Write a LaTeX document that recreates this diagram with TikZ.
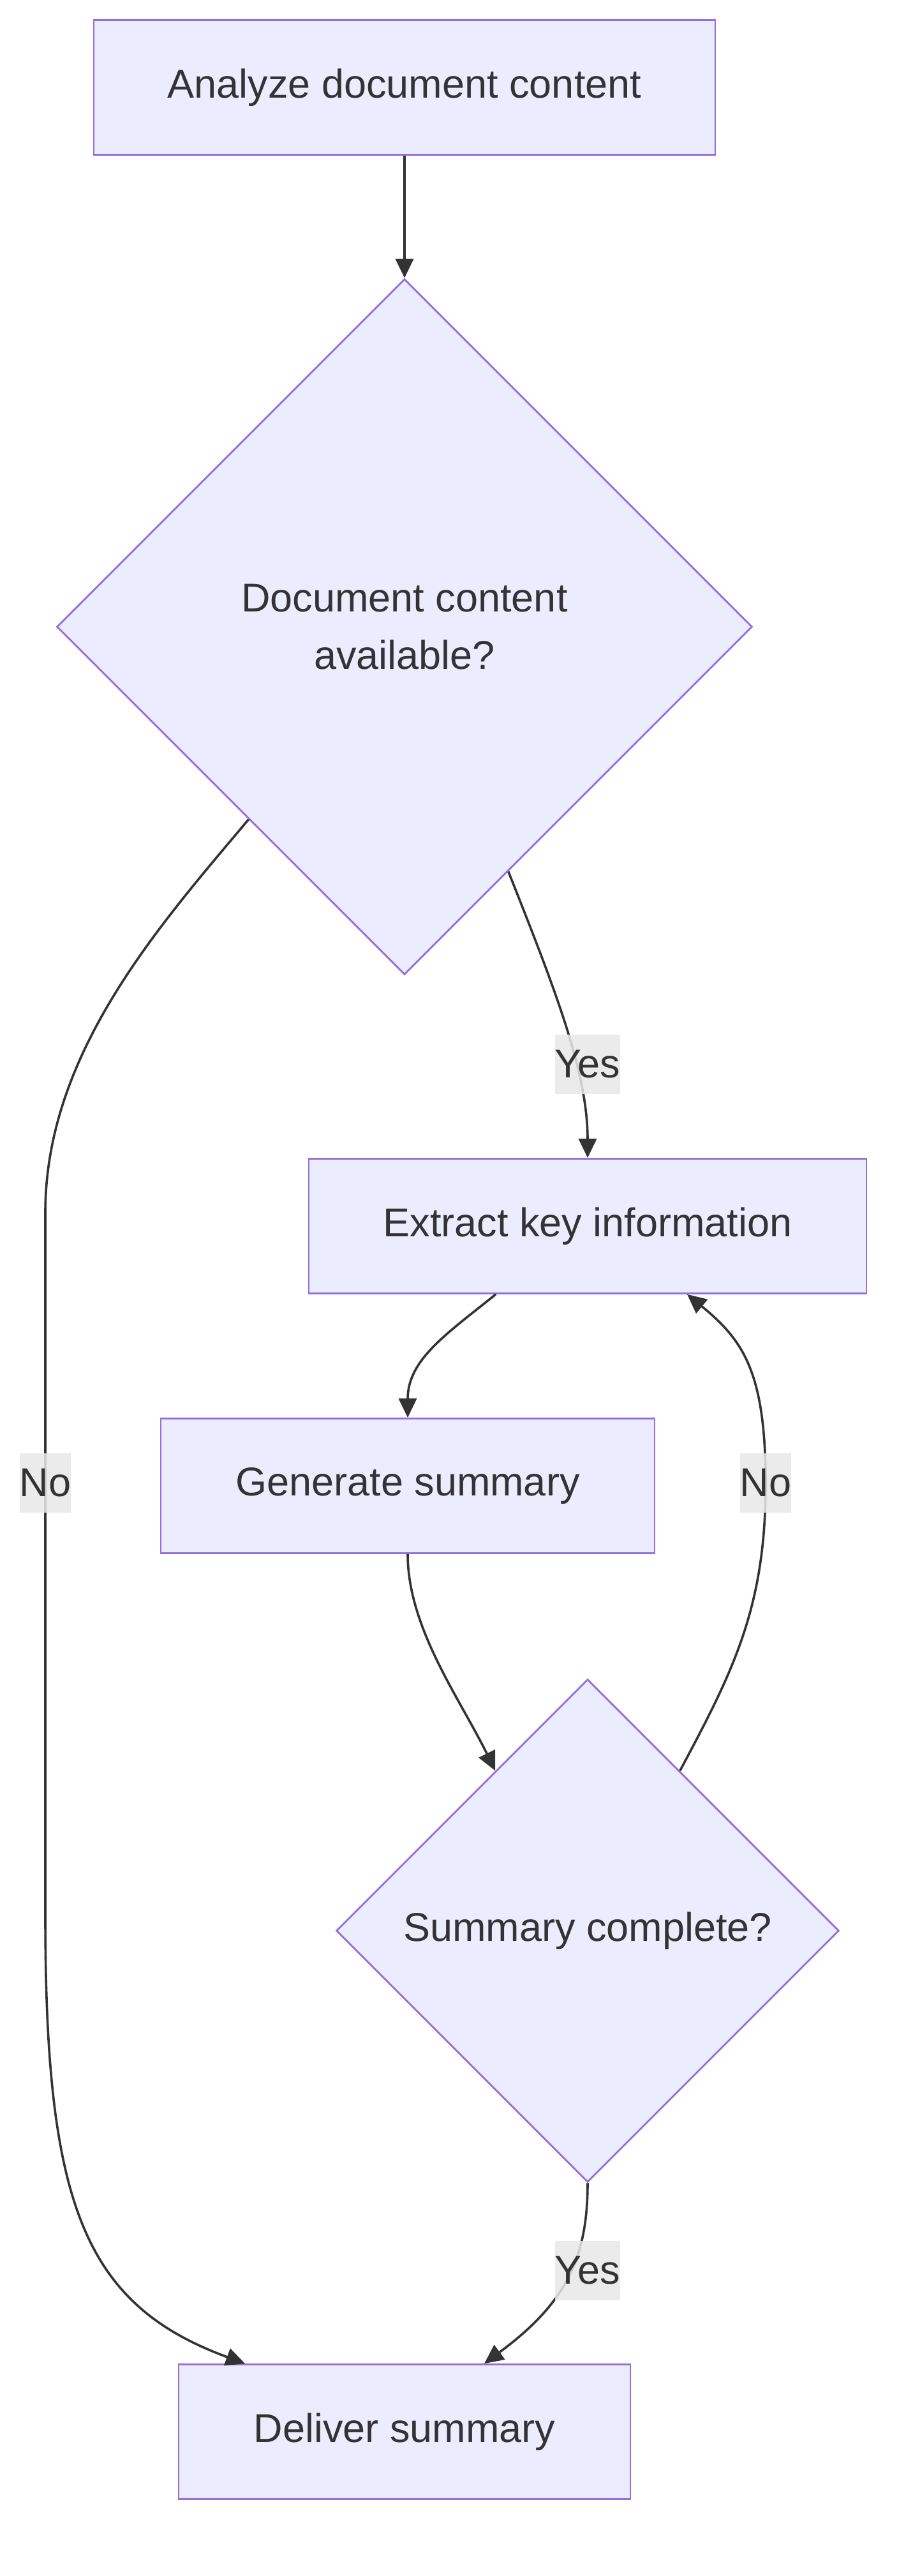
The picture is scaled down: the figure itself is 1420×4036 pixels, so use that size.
\documentclass[tikz,border=0pt]{standalone}
\usepackage{fontspec}
\setmainfont{Liberation Sans}
\usetikzlibrary{shapes.geometric,arrows.meta,calc}
\definecolor{nodefill}{HTML}{ECECFF}
\definecolor{nodeborder}{HTML}{9370DB}
\definecolor{ink}{HTML}{333333}
\definecolor{labelbg}{HTML}{E8E8E8}
\tikzset{
  txt/.style={text=ink, font=\fontsize{63}{90}\selectfont},
  box/.style={txt, draw=nodeborder, fill=nodefill, line width=2.8pt, rectangle, inner sep=0pt, minimum height=211pt},
  decision/.style={txt, draw=nodeborder, fill=nodefill, line width=2.8pt, diamond, inner sep=0pt, align=center},
  link/.style={draw=ink, line width=3.6pt, -{Triangle[length=30pt,width=28pt]}},
  elabel/.style={txt, fill=labelbg, fill opacity=0.85, text opacity=1, inner sep=0pt, minimum height=93pt}
}
\begin{document}
\begin{tikzpicture}[x=1pt,y=-1pt]
\fill[white] (0,0) rectangle (1420,4036);
\useasboundingbox (0,0) rectangle (1420,4036);

\node[box, minimum width=974pt] (a) at (634,137) {Analyze document content};
\node[decision, minimum width=1090pt, minimum height=1090pt] (d1) at (634,982) {Document content\\available?};
\node[box, minimum width=874pt] (b) at (921,1921) {Extract key information};
\node[box, minimum width=774pt] (g) at (639,2328) {Generate summary};
\node[decision, minimum width=788pt, minimum height=788pt] (d2) at (921,3025) {Summary complete?};
\node[box, minimum width=708pt] (del) at (634,3810) {Deliver summary};

% edges
\draw[link] (a.south) -- (d1.north);
\draw[link] (d1.-67.5) .. controls (870,1550) and (921,1680) .. (b.north);
\draw[link] (d1.-129.5) .. controls (250,1450) and (71,1650) .. (71,1900) -- (71,3000) .. controls (71,3450) and (130,3610) .. ([xshift=-250pt]del.north);
\draw[link] ([xshift=-144pt]b.south) .. controls (700,2090) and (639,2130) .. (g.north);
\draw[link] (g.south) .. controls (639,2550) and (720,2660) .. (d2.120);
\draw[link] (d2.60) .. controls (1148,2620) and (1200,2520) .. (1200,2325) .. controls (1200,2150) and (1165,2100) .. ([xshift=156pt]b.south);
\draw[link] (d2.south) .. controls (921,3540) and (885,3610) .. ([xshift=125pt]del.north);

% edge labels
\node[elabel] (l1) at (921,1667) {Yes};
\node[elabel] (l2) at (71,2323) {No};
\node[elabel] (l3) at (1200,2323) {No};
\node[elabel] (l4) at (921,3557) {Yes};
\end{tikzpicture}
\end{document}
